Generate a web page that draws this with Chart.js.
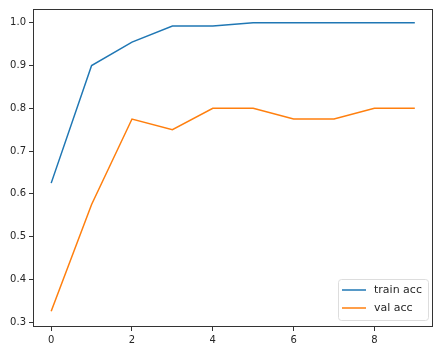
<!DOCTYPE html>
<html>
<head>
<meta charset="utf-8">
<script src="https://cdn.jsdelivr.net/npm/chart.js@4"></script>
<style>
  html, body { margin: 0; padding: 0; background: #fff; }
  #wrap { width: 441px; height: 348px; }
</style>
</head>
<body>
<div id="wrap"><canvas id="myChart" width="441" height="348"></canvas></div>
<script>
// epochs and accuracy per epoch
var epochs = [0, 1, 2, 3, 4, 5, 6, 7, 8, 9]
var trainAcc = [0.625, 0.9, 0.955, 0.9925, 0.9925, 1.0, 1.0, 1.0, 1.0, 1.0]
var valAcc = [0.325, 0.575, 0.775, 0.75, 0.8, 0.8, 0.775, 0.775, 0.8, 0.8]
var xTicks = [0, 2, 4, 6, 8]
var yTicks = [0.3, 0.4, 0.5, 0.6, 0.7, 0.8, 0.9, 1.0]

var seriesNames = ['train acc', 'val acc']
var seriesColors = ['#1f77b4', '#ff7f0e']

var tickFont = { family: 'DejaVu Sans', size: 10 }

// box around the plot + legend in lower right
var framePlugin = {
  id: 'frame',
  afterDraw(chart) {
    var ctx = chart.ctx, a = chart.chartArea
    ctx.save()
    ctx.strokeStyle = '#333'
    ctx.lineWidth = 1
    ctx.strokeRect(a.left + 0.5, a.top + 0.5, a.right - a.left - 1, a.bottom - a.top - 1)

    var bw = 90, bh = 41
    var bx = a.right - bw - 5, by = a.bottom - bh - 7
    ctx.fillStyle = 'rgba(255,255,255,0.8)'
    ctx.strokeStyle = '#ddd'
    ctx.beginPath()
    ctx.roundRect(bx + 0.5, by + 0.5, bw, bh, 3)
    ctx.fill()
    ctx.stroke()
    ctx.font = '11px "DejaVu Sans"'
    ctx.textBaseline = 'middle'
    seriesNames.forEach(function (name, i) {
      var y = by + 11 + i * 18
      ctx.strokeStyle = seriesColors[i]
      ctx.lineWidth = 1.5
      ctx.beginPath()
      ctx.moveTo(bx + 4, y)
      ctx.lineTo(bx + 28, y)
      ctx.stroke()
      ctx.fillStyle = '#262626'
      ctx.fillText(name, bx + 36, y)
    })
    ctx.restore()
  }
}

const data = {
  labels: epochs,
  datasets: [
    {
      label: seriesNames[0],
      data: epochs.map((e, i) => ({ x: e, y: trainAcc[i] })),
      borderColor: seriesColors[0],
      backgroundColor: seriesColors[0],
      borderWidth: 1.5,
      pointRadius: 0,
      tension: 0
    },
    {
      label: seriesNames[1],
      data: epochs.map((e, i) => ({ x: e, y: valAcc[i] })),
      borderColor: seriesColors[1],
      backgroundColor: seriesColors[1],
      borderWidth: 1.5,
      pointRadius: 0,
      tension: 0
    }
  ]
}

const config = {
  type: 'line',
  data: data,
  options: {
    responsive: false,
    animation: false,
    layout: { padding: { top: 6, right: 8, left: 0, bottom: 0 } },
    plugins: { legend: { display: false }, tooltip: { enabled: false } },
    scales: {
      x: {
        type: 'linear',
        min: -0.45,
        max: 9.45,
        afterBuildTicks: s => { s.ticks = xTicks.map(v => ({ value: v })) },
        afterFit: s => { s.height = 21 },
        grid: { drawOnChartArea: false, drawTicks: true, tickLength: 4, color: '#333' },
        border: { display: false },
        ticks: { font: tickFont, color: '#262626', padding: 3, maxRotation: 0 }
      },
      y: {
        min: 0.2884,
        max: 1.0324,
        afterBuildTicks: s => { s.ticks = yTicks.map(v => ({ value: v })) },
        afterFit: s => { s.width = 33 },
        grid: { drawOnChartArea: false, drawTicks: true, tickLength: 4, color: '#333' },
        border: { display: false },
        ticks: { font: tickFont, color: '#262626', padding: 3, callback: v => v.toFixed(1) }
      }
    }
  },
  plugins: [framePlugin]
}

const myChart = new Chart(document.getElementById('myChart'), config)
</script>
</body>
</html>
